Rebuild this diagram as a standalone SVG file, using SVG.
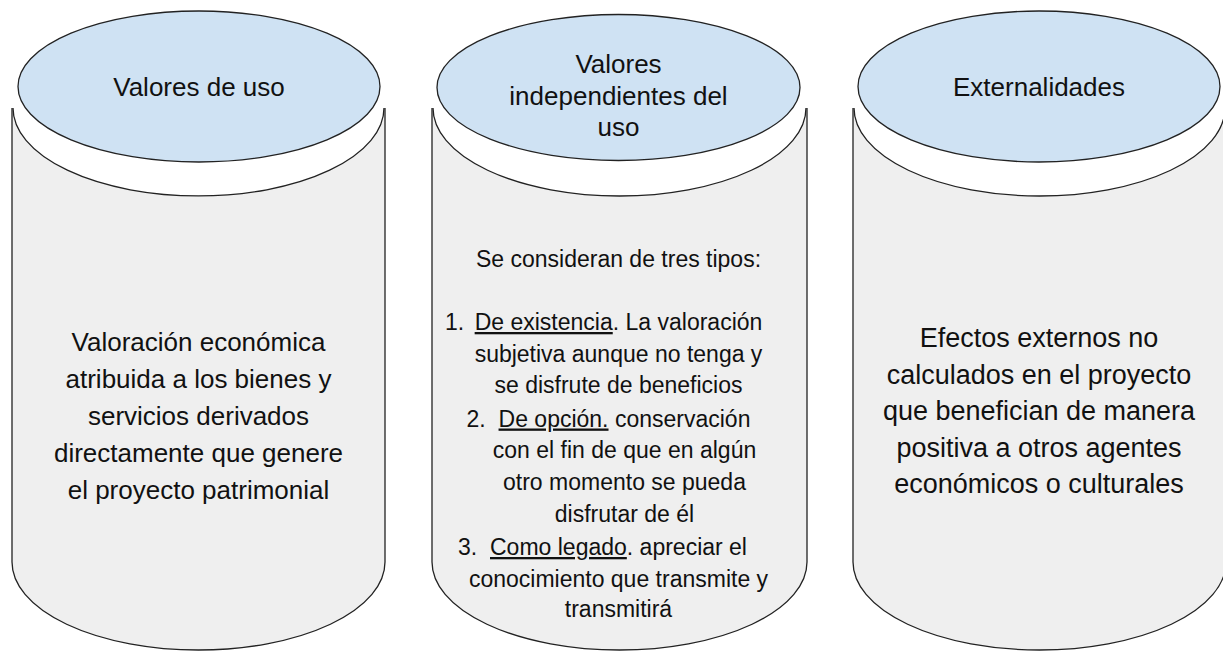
<svg xmlns="http://www.w3.org/2000/svg" width="1223" height="651" viewBox="0 0 1223 651">
<style>
.body{fill:#efefef;stroke:none}
.lip{fill:#ffffff;stroke:none}
.edge{fill:none;stroke:#222;stroke-width:1.3}
.cap{fill:#cfe2f3;stroke:#222;stroke-width:1.3}
text{font-family:"Liberation Sans",Arial,sans-serif;fill:#111}
.t{font-size:26px;text-anchor:middle}
.r{font-size:27px;text-anchor:middle}
.m{font-size:23px}
.mc{font-size:23px;text-anchor:middle}
.u{text-decoration:underline}
</style>
<rect width="1223" height="651" fill="#ffffff"/>
<g id="connectors"/>
<g id="node-valores-uso">
<path class="body" d="M12,108 L12,562 A186.5,88 0 0 0 385,562 L385,108 Z"/>
<path class="lip" d="M12,108 A186.5,88 0 0 0 385,108 Z"/>
<path class="edge" d="M12,108 L12,562 A186.5,88 0 0 0 385,562 L385,108"/>
<path class="edge" d="M13,108 A185.5,88 0 0 0 384,108"/>
<ellipse class="cap" cx="199" cy="86.5" rx="181" ry="75.5"/>
<text class="t" x="199" y="96">Valores de uso</text>
<text class="t" x="198.5" y="351">Valoración económica</text>
<text class="t" x="198.5" y="388">atribuida a los bienes y</text>
<text class="t" x="198.5" y="425">servicios derivados</text>
<text class="t" x="198.5" y="462">directamente que genere</text>
<text class="t" x="198.5" y="499">el proyecto patrimonial</text>
</g>
<g id="node-valores-independientes">
<path class="body" d="M432,108 L432,562 A187.5,88 0 0 0 807,562 L807,108 Z"/>
<path class="lip" d="M432,108 A187.5,88 0 0 0 807,108 Z"/>
<path class="edge" d="M432,108 L432,562 A187.5,88 0 0 0 807,562 L807,108"/>
<path class="edge" d="M433,108 A186.5,88 0 0 0 806,108"/>
<ellipse class="cap" cx="618.5" cy="87.5" rx="181.5" ry="73"/>
<text class="t" x="618.5" y="73">Valores</text>
<text class="t" x="618.5" y="105">independientes del</text>
<text class="t" x="618.5" y="136">uso</text>
<text class="mc" x="618.5" y="267">Se consideran de tres tipos:</text>
<text class="m" x="445" y="330">1.</text>
<text class="mc" x="618.5" y="330"><tspan class="u">De existencia</tspan>. La valoración</text>
<text class="mc" x="618.5" y="362">subjetiva aunque no tenga y</text>
<text class="mc" x="618.5" y="393">se disfrute de beneficios</text>
<text class="m" x="466.5" y="426.5">2.</text>
<text class="mc" x="624.5" y="426.5"><tspan class="u">De opción.</tspan> conservación</text>
<text class="mc" x="624.5" y="458">con el fin de que en algún</text>
<text class="mc" x="624.5" y="490">otro momento se pueda</text>
<text class="mc" x="624.5" y="521.5">disfrutar de él</text>
<text class="m" x="458" y="555">3.</text>
<text class="mc" x="618.5" y="555"><tspan class="u">Como legado</tspan>. apreciar el</text>
<text class="mc" x="618.5" y="586.5">conocimiento que transmite y</text>
<text class="mc" x="618.5" y="616.5">transmitirá</text>
</g>
<g id="node-externalidades">
<path class="body" d="M853,108 L853,562 A186.5,88 0 0 0 1226,562 L1226,108 Z"/>
<path class="lip" d="M853,108 A186.5,88 0 0 0 1226,108 Z"/>
<path class="edge" d="M853,108 L853,562 A186.5,88 0 0 0 1226,562 L1226,108"/>
<path class="edge" d="M854,108 A185.5,88 0 0 0 1225,108"/>
<ellipse class="cap" cx="1039" cy="86.5" rx="181" ry="75.5"/>
<text class="t" x="1039" y="96">Externalidades</text>
<text class="r" x="1039" y="347">Efectos externos no</text>
<text class="r" x="1039" y="384">calculados en el proyecto</text>
<text class="r" x="1039" y="420">que benefician de manera</text>
<text class="r" x="1039" y="457">positiva a otros agentes</text>
<text class="r" x="1039" y="493">económicos o culturales</text>
</g>
</svg>
